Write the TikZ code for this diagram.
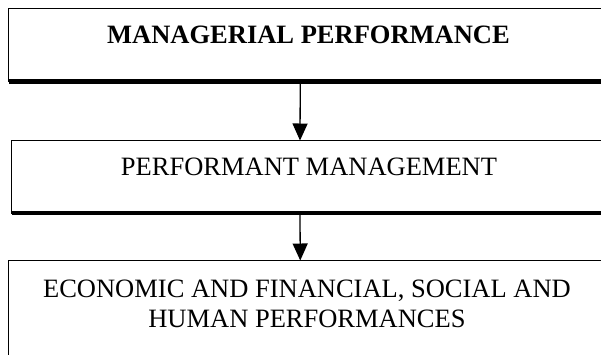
\documentclass[tikz,border=0pt]{standalone}
\usepackage{fontspec}
\setmainfont{Liberation Serif}
\usetikzlibrary{arrows.meta}
\begin{document}
\begin{tikzpicture}[x=1pt,y=-1pt,
  stagebox/.style={draw=black, line width=1.3pt, rectangle, inner sep=0pt, outer sep=0pt},
  heavyedge/.style={line width=4.6pt, line cap=butt},
  label/.style={anchor=base, inner sep=0pt, font=\fontsize{26.5}{30}\selectfont},
  flow/.style={line width=1.3pt, -{Triangle[length=17pt,width=15pt]}}
]
\clip (0,0) rectangle (601,354);
\fill[white] (0,0) rectangle (601,354);

% three stacked boxes, running past the right edge
\node[stagebox, minimum width=599.5pt, minimum height=73pt] (b1) at (308.25,45) {};
\node[stagebox, minimum width=593pt, minimum height=72.5pt] (b2) at (308,176.75) {};
\node[stagebox, minimum width=599.5pt, minimum height=140pt] (b3) at (308.25,330.5) {};

% heavy lower edges
\draw[heavyedge] (b1.south west) -- (b1.south east);
\draw[heavyedge] (b2.south west) -- (b2.south east);

% captions (a multi-line node sits on the baseline of its last line)
\node[label, font=\fontsize{26.5}{30}\selectfont\bfseries] (t1) at (308.5,43) {MANAGERIAL PERFORMANCE};
\node[label] (t2) at (309,175) {PERFORMANT MANAGEMENT};
\node[label, align=center] (t3) at (307,327) {ECONOMIC AND FINANCIAL, SOCIAL AND\\HUMAN PERFORMANCES};

% connectors
\draw[flow] ([xshift=-8pt,yshift=-2pt]b1.south) -- ([xshift=-8pt]b2.north);
\draw[flow] ([xshift=-8pt,yshift=-2pt]b2.south) -- ([xshift=-8pt]b3.north);
\end{tikzpicture}
\end{document}
